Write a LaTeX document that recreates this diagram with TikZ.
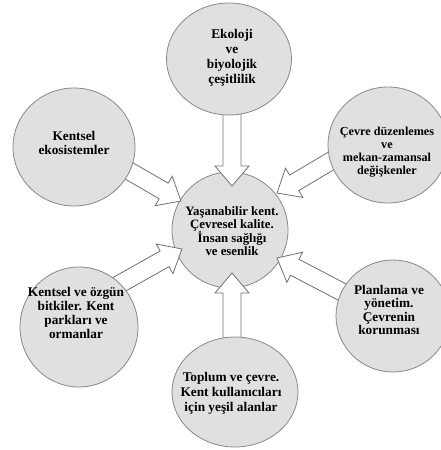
\documentclass[tikz,border=0pt]{standalone}
\usepackage{fontspec}
\setmainfont{Liberation Serif}
\usetikzlibrary{shapes.geometric,calc}

\definecolor{bubblefill}{HTML}{E0E0E0}
\definecolor{bubbleline}{HTML}{888888}
\definecolor{arrowline}{HTML}{707070}

% shaft half-width, head half-width and head length of the block arrows
\newcommand\shafthw{9pt}
\newcommand\headhw{17pt}
\newcommand\headlen{20pt}

% outlined block arrow from a tail coordinate (#1) to a tip coordinate (#2)
\newcommand\blockarrow[2]{%
  \coordinate (#2-base) at ($(#2)!\headlen!(#1)$);
  \filldraw[blockarrow]
    ($(#1)!\shafthw!-90:(#2)$)
    -- ($(#2-base)!\shafthw!90:(#1)$)
    -- ($(#2-base)!\headhw!90:(#1)$)
    -- (#2)
    -- ($(#2-base)!\headhw!-90:(#1)$)
    -- ($(#2-base)!\shafthw!-90:(#1)$)
    -- ($(#1)!\shafthw!90:(#2)$)
    -- cycle;
}

\tikzset{
  bubble/.style={ellipse, draw=bubbleline, fill=bubblefill, line width=0.8pt, inner sep=0pt},
  bubbletext/.style={align=center, inner sep=0pt,
    font=\fontsize{13.3}{14}\selectfont\bfseries},
  blockarrow/.style={draw=arrowline, fill=white, line width=0.8pt, line join=miter},
}

\begin{document}
\begin{tikzpicture}[x=1pt, y=-1pt]
  \useasboundingbox (0,0) rectangle (441,450);

  % centres of the bubbles
  \coordinate (c-eco)  at (229,59);
  \coordinate (c-kent) at (74,147);
  \coordinate (c-cev)  at (388,145);
  \coordinate (c-mid)  at (230,230);
  \coordinate (c-bit)  at (79,327);
  \coordinate (c-plan) at (393,316);
  \coordinate (c-top)  at (235,392);

  % central bubble
  \node[bubble, minimum width=116pt, minimum height=116pt] (mid) at (c-mid) {};

  % arrow tails (hidden under the outer bubbles) and tips
  \coordinate (t-eco)  at (232,80);   \coordinate (p-eco)  at (232,186);
  \coordinate (t-kent) at (98,153);   \coordinate (p-kent) at (181,201);
  \coordinate (t-cev)  at (358,145);  \coordinate (p-cev)  at (277,193);
  \coordinate (t-bit)  at (95,298);   \coordinate (p-bit)  at (182,249);
  \coordinate (t-plan) at (367,305);  \coordinate (p-plan) at (277,258);
  \coordinate (t-top)  at (232,380);  \coordinate (p-top)  at (232,273);

  \blockarrow{t-eco}{p-eco}
  \blockarrow{t-kent}{p-kent}
  \blockarrow{t-cev}{p-cev}
  \blockarrow{t-bit}{p-bit}
  \blockarrow{t-plan}{p-plan}
  \blockarrow{t-top}{p-top}

  % outer bubbles
  \node[bubble, minimum width=125pt, minimum height=112pt] (eco)  at (c-eco)  {};
  \node[bubble, minimum width=122pt, minimum height=118pt] (kent) at (c-kent) {};
  \node[bubble, minimum width=120pt, minimum height=116pt] (cev)  at (c-cev)  {};
  \node[bubble, minimum width=118pt, minimum height=120pt] (bit)  at (c-bit)  {};
  \node[bubble, minimum width=114pt, minimum height=112pt] (plan) at (c-plan) {};
  \node[bubble, minimum width=126pt, minimum height=110pt] (top)  at (c-top)  {};

  % labels
  \node[bubbletext, font=\fontsize{12.8}{13}\selectfont\bfseries] (mid-t) at (232,231)
    {Yaşanabilir kent.\\Çevresel kalite.\\İnsan sağlığı\\ve esenlik};
  \node[bubbletext, font=\fontsize{13.3}{15}\selectfont\bfseries] (eco-t) at (232,58)
    {Ekoloji\\ve\\biyolojik\\çeşitlilik};
  \node[bubbletext] (kent-t) at (74,143)
    {Kentsel\\ekosistemler};
  \node[bubbletext, font=\fontsize{12.2}{13}\selectfont\bfseries] (cev-t) at (387,152)
    {Çevre düzenlemes\\ve\\mekan-zamansal\\değişkenler};
  \node[bubbletext] (bit-t) at (76,313)
    {Kentsel ve özgün\\bitkiler. Kent\\parkları ve\\ormanlar};
  \node[bubbletext, font=\fontsize{13.3}{13.5}\selectfont\bfseries] (plan-t) at (389,310)
    {Planlama ve\\yönetim.\\Çevrenin\\korunması};
  \node[bubbletext, font=\fontsize{13.3}{15}\selectfont\bfseries] (top-t) at (231,393)
    {Toplum ve çevre.\\Kent kullanıcıları\\için yeşil alanlar};
\end{tikzpicture}
\end{document}
